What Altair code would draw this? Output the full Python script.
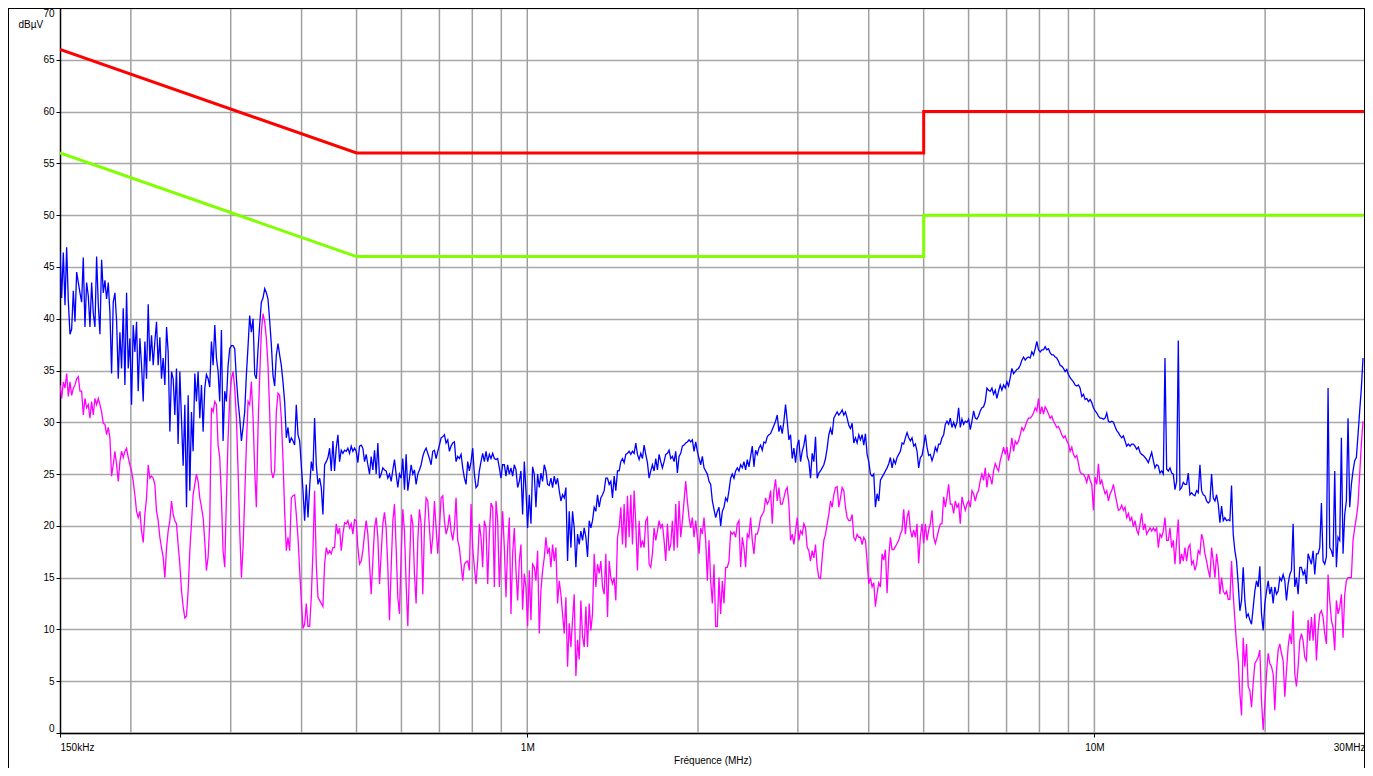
import altair as alt
import pandas as pd

FONT = "Liberation Sans"

# ---- sweep frequencies (MHz), one per measured point ----
freq_mhz = [
    0.15, 0.15102, 0.15204, 0.15307, 0.15411, 0.15515, 0.15621, 0.15727, 0.15833, 0.15941,
    0.16049, 0.16157, 0.16267, 0.16377, 0.16488, 0.166, 0.16712, 0.16826, 0.1694, 0.17055,
    0.1717, 0.17287, 0.17404, 0.17522, 0.17641, 0.1776, 0.17881, 0.18002, 0.18124, 0.18247,
    0.1837, 0.18495, 0.1862, 0.18747, 0.18874, 0.19002, 0.19131, 0.1926, 0.19391, 0.19522,
    0.19655, 0.19788, 0.19922, 0.20057, 0.20193, 0.2033, 0.20468, 0.20606, 0.20746, 0.20887,
    0.21028, 0.21171, 0.21314, 0.21459, 0.21604, 0.21751, 0.21898, 0.22047, 0.22196, 0.22347,
    0.225, 0.2265, 0.228, 0.2296, 0.2312, 0.2327, 0.2343, 0.2359, 0.2375, 0.2391,
    0.2407, 0.2423, 0.244, 0.2456, 0.2473, 0.249, 0.2507, 0.2524, 0.2541, 0.2558,
    0.2575, 0.2593, 0.261, 0.2628, 0.2646, 0.2664, 0.2682, 0.27, 0.2718, 0.2737,
    0.2755, 0.2774, 0.2793, 0.2812, 0.2831, 0.285, 0.2869, 0.2889, 0.2908, 0.2928,
    0.2948, 0.2968, 0.2988, 0.3008, 0.3029, 0.3049, 0.307, 0.3091, 0.3112, 0.3133,
    0.3154, 0.3175, 0.3197, 0.3219, 0.324, 0.3262, 0.3285, 0.3307, 0.3329, 0.3352,
    0.3374, 0.3397, 0.342, 0.3444, 0.3467, 0.349, 0.3514, 0.3538, 0.3562, 0.3586,
    0.361, 0.3635, 0.3659, 0.3684, 0.3709, 0.3734, 0.376, 0.3785, 0.3811, 0.3837,
    0.3863, 0.3889, 0.3915, 0.3942, 0.3969, 0.3995, 0.4023, 0.405, 0.4077, 0.4105,
    0.4133, 0.4161, 0.4189, 0.4217, 0.4246, 0.4275, 0.4304, 0.4333, 0.4362, 0.4392,
    0.4422, 0.4452, 0.4482, 0.4512, 0.4543, 0.4573, 0.4604, 0.4636, 0.4667, 0.4699,
    0.4731, 0.4763, 0.4795, 0.4827, 0.486, 0.4893, 0.4926, 0.496, 0.4993, 0.5027,
    0.5061, 0.5096, 0.513, 0.5165, 0.52, 0.5235, 0.5271, 0.5306, 0.5342, 0.5379,
    0.5415, 0.5452, 0.5489, 0.5526, 0.5563, 0.5601, 0.5639, 0.5677, 0.5716, 0.5755,
    0.5794, 0.5833, 0.5872, 0.5912, 0.5952, 0.5993, 0.6033, 0.6074, 0.6115, 0.6157,
    0.6199, 0.6241, 0.6283, 0.6325, 0.6368, 0.6412, 0.6455, 0.6499, 0.6543, 0.6587,
    0.6632, 0.6677, 0.6722, 0.6768, 0.6813, 0.686, 0.6906, 0.6953, 0.7, 0.7048,
    0.7095, 0.7143, 0.7192, 0.7241, 0.729, 0.7339, 0.7389, 0.7439, 0.7489, 0.754,
    0.7591, 0.7643, 0.7695, 0.7747, 0.7799, 0.7852, 0.7905, 0.7959, 0.8013, 0.8067,
    0.8122, 0.8177, 0.8232, 0.8288, 0.8344, 0.8401, 0.8458, 0.8515, 0.8573, 0.8631,
    0.869, 0.8749, 0.8808, 0.8868, 0.8928, 0.8988, 0.9049, 0.9111, 0.9172, 0.9234,
    0.9297, 0.936, 0.9424, 0.9487, 0.9552, 0.9617, 0.9682, 0.9747, 0.9813, 0.988,
    0.9947, 1.0014, 1.0082, 1.0151, 1.0219, 1.0289, 1.0358, 1.0429, 1.0499, 1.0571,
    1.0642, 1.0714, 1.0787, 1.086, 1.0934, 1.1008, 1.1082, 1.1158, 1.1233, 1.1309,
    1.1386, 1.1463, 1.1541, 1.1619, 1.1698, 1.1777, 1.1857, 1.1938, 1.2018, 1.21,
    1.2182, 1.2265, 1.2348, 1.2431, 1.2516, 1.2601, 1.2686, 1.2772, 1.2859, 1.2946,
    1.3033, 1.3122, 1.3211, 1.33, 1.3391, 1.3481, 1.3573, 1.3665, 1.3757, 1.3851,
    1.3945, 1.4039, 1.4134, 1.423, 1.4326, 1.4424, 1.4521, 1.462, 1.4719, 1.4819,
    1.4919, 1.502, 1.5122, 1.5225, 1.5328, 1.5432, 1.5536, 1.5642, 1.5748, 1.5855,
    1.5962, 1.607, 1.6179, 1.6289, 1.6399, 1.651, 1.6622, 1.6735, 1.6849, 1.6963,
    1.7078, 1.7194, 1.731, 1.7427, 1.7546, 1.7665, 1.7784, 1.7905, 1.8026, 1.8148,
    1.8271, 1.8395, 1.852, 1.8646, 1.8772, 1.8899, 1.9027, 1.9156, 1.9286, 1.9417,
    1.9549, 1.9681, 1.9815, 1.9949, 2.0084, 2.022, 2.0357, 2.0495, 2.0634, 2.0774,
    2.0915, 2.1057, 2.12, 2.1343, 2.1488, 2.1634, 2.178, 2.1928, 2.2077, 2.2226,
    2.2377, 2.2529, 2.2681, 2.2835, 2.299, 2.3146, 2.3303, 2.3461, 2.362, 2.378,
    2.3941, 2.4103, 2.4267, 2.4431, 2.4597, 2.4764, 2.4932, 2.5101, 2.5271, 2.5442,
    2.5615, 2.5788, 2.5963, 2.6139, 2.6316, 2.6495, 2.6674, 2.6855, 2.7037, 2.7221,
    2.7405, 2.7591, 2.7778, 2.7966, 2.8156, 2.8347, 2.8539, 2.8732, 2.8927, 2.9123,
    2.9321, 2.9519, 2.972, 2.9921, 3.0124, 3.0328, 3.0534, 3.0741, 3.0949, 3.1159,
    3.137, 3.1583, 3.1797, 3.2012, 3.2229, 3.2448, 3.2668, 3.2889, 3.3112, 3.3337,
    3.3563, 3.379, 3.4019, 3.425, 3.4482, 3.4716, 3.4951, 3.5188, 3.5427, 3.5667,
    3.5909, 3.6152, 3.6397, 3.6644, 3.6893, 3.7143, 3.7394, 3.7648, 3.7903, 3.816,
    3.8419, 3.8679, 3.8942, 3.9206, 3.9471, 3.9739, 4.0008, 4.028, 4.0553, 4.0828,
    4.1104, 4.1383, 4.1663, 4.1946, 4.223, 4.2517, 4.2805, 4.3095, 4.3387, 4.3681,
    4.3977, 4.4276, 4.4576, 4.4878, 4.5182, 4.5488, 4.5797, 4.6107, 4.642, 4.6735,
    4.7051, 4.737, 4.7692, 4.8015, 4.834, 4.8668, 4.8998, 4.933, 4.9665, 5.0001,
    5.034, 5.0681, 5.1025, 5.1371, 5.1719, 5.207, 5.2423, 5.2778, 5.3136, 5.3496,
    5.3859, 5.4224, 5.4592, 5.4962, 5.5334, 5.571, 5.6087, 5.6467, 5.685, 5.7236,
    5.7624, 5.8014, 5.8408, 5.8804, 5.9202, 5.9604, 6.0008, 6.0414, 6.0824, 6.1237,
    6.1652, 6.2069, 6.249, 6.2914, 6.334, 6.377, 6.4202, 6.4637, 6.5076, 6.5517,
    6.5961, 6.6408, 6.6858, 6.7312, 6.7768, 6.8227, 6.869, 6.9155, 6.9624, 7.0096,
    7.0571, 7.105, 7.1532, 7.2016, 7.2505, 7.2996, 7.3491, 7.3989, 7.4491, 7.4996,
    7.5504, 7.6016, 7.6531, 7.705, 7.7573, 7.8099, 7.8628, 7.9161, 7.9698, 8.0238,
    8.0782, 8.133, 8.1881, 8.2436, 8.2995, 8.3558, 8.4124, 8.4694, 8.5269, 8.5847,
    8.6429, 8.7014, 8.7604, 8.8198, 8.8796, 8.9398, 9.0004, 9.0614, 9.1229, 9.1847,
    9.247, 9.3097, 9.3728, 9.4363, 9.5003, 9.5647, 9.6296, 9.6948, 9.7606, 9.8267,
    9.8933, 9.9604, 10.028, 10.096, 10.164, 10.233, 10.303, 10.372, 10.443, 10.514,
    10.585, 10.657, 10.729, 10.802, 10.875, 10.949, 11.023, 11.098, 11.173, 11.249,
    11.325, 11.402, 11.479, 11.557, 11.635, 11.714, 11.793, 11.873, 11.954, 12.035,
    12.116, 12.198, 12.281, 12.364, 12.448, 12.533, 12.618, 12.703, 12.789, 12.876,
    12.963, 13.051, 13.14, 13.229, 13.318, 13.409, 13.5, 13.591, 13.683, 13.776,
    13.869, 13.963, 14.058, 14.153, 14.249, 14.346, 14.443, 14.541, 14.64, 14.739,
    14.839, 14.939, 15.041, 15.143, 15.245, 15.349, 15.453, 15.557, 15.663, 15.769,
    15.876, 15.984, 16.092, 16.201, 16.311, 16.422, 16.533, 16.645, 16.758, 16.871,
    16.986, 17.101, 17.217, 17.334, 17.451, 17.569, 17.688, 17.808, 17.929, 18.051,
    18.173, 18.296, 18.42, 18.545, 18.671, 18.797, 18.925, 19.053, 19.182, 19.312,
    19.443, 19.575, 19.708, 19.841, 19.976, 20.111, 20.248, 20.385, 20.523, 20.662,
    20.802, 20.943, 21.085, 21.228, 21.372, 21.517, 21.663, 21.81, 21.958, 22.107,
    22.256, 22.407, 22.559, 22.712, 22.866, 23.021, 23.177, 23.334, 23.493, 23.652,
    23.812, 23.974, 24.136, 24.3, 24.464, 24.63, 24.797, 24.965, 25.135, 25.305,
    25.477, 25.649, 25.823, 25.998, 26.174, 26.352, 26.531, 26.71, 26.892, 27.074,
    27.257, 27.442, 27.628, 27.815, 28.004, 28.194, 28.385, 28.577, 28.771, 28.966,
    29.163, 29.36, 29.559, 29.76,
]

# ---- blue trace (dBuV) ----
blue_dbuv = [
    46.5, 42, 46.4, 41.3, 46.9, 41.7, 38.5, 39, 42.7, 39.7,
    44.5, 43.5, 42.5, 41.6, 45.9, 39.2, 43.5, 42.2, 39.2, 43.5,
    40.5, 39.2, 46, 41.4, 38.5, 45.7, 42.5, 43.7, 41.9, 43.5,
    40.6, 34.7, 41.6, 42.5, 39.8, 34.2, 38.7, 35.2, 41, 33.6,
    42.5, 35.2, 38.1, 31.7, 39.4, 36.8, 39.7, 33, 38.1, 35.5,
    32, 37.8, 34.2, 41.4, 35.9, 38.4, 35.5, 37.8, 39.7, 35.5,
    38.2, 34.2, 36.2, 33.6, 39.2, 36.8, 29.1, 34.9, 34.2, 30.7,
    35.2, 27.9, 34.9, 30.4, 25.8, 31.7, 21.8, 32.6, 23.4, 31,
    27.2, 34.7, 32, 34.9, 30.4, 33.6, 29.1, 33.3, 34.6, 34.2,
    33.4, 37.8, 35.5, 39.4, 36.2, 34.9, 32, 38.9, 28.2, 33,
    32, 35.5, 37.1, 37.4, 37.4, 37.1, 34.2, 32, 30.4, 28.2,
    29.5, 31, 34.6, 37.4, 40.3, 38.7, 40, 34.6, 34.2, 37.1,
    39.4, 41.6, 42, 42.9, 42.5, 41.9, 39.8, 37.5, 34.5, 33.5,
    36.5, 37.6, 36.5, 35.5, 33.9, 32, 28.5, 29.5, 28, 28.5,
    28.2, 27.8, 31.7, 28.8, 28.2, 25.9, 23.4, 20.5, 24, 20.8,
    23.7, 26.2, 25.3, 30.4, 25.9, 24, 24.6, 23.7, 21.1, 25.9,
    26.2, 26.6, 27.5, 25.3, 28.2,
    25.3, 27.5, 28.8, 26.2, 27.3, 27, 27.3, 27.2, 27.5, 27,
    27.7, 27.2, 27.5, 27.2, 26.1, 27.7, 27.8, 27.5, 26.2, 26.9,
    25.9, 25, 26.7, 25.4, 27.3, 25, 28, 24.6, 25, 25.6,
    25.4, 25.3, 24.6, 25, 24.3, 25.4, 26.4, 25, 23.7, 25,
    24.6, 26.5, 23.5, 26.9, 23.4, 24.6, 25.9, 25, 25.4, 24,
    25, 25.4, 25.9, 26.7, 27.2, 27.5, 27, 26.5, 25.9, 27.2,
    27.3, 26.5, 27.2, 27.8, 28.5, 28.6, 28.8, 28, 28.3, 27.2,
    27.7, 28, 28.1, 26.2, 26.7, 26.5, 26.9, 25.6, 24.6, 24,
    26.2,
    25.3, 26.2, 27.5, 25, 23.7, 23.9, 25.3, 26.2, 27, 26.2,
    27.2, 26.2, 26.9, 26.5, 27, 26.5, 26.4, 26.5, 25.6, 24.6,
    25.9, 25.9, 24.8, 25.9, 25, 25.6, 24.8, 25.9, 25.4, 23.7,
    24.3, 25.3, 21.1, 26.2, 23.4, 19.8, 23, 20.2, 25.7, 25,
    21.8, 25, 23.7, 25.1, 24.3, 25.9, 25.3, 24, 23.9, 24.6,
    23.7, 24.8, 24, 24.6, 23.4, 22.4, 23, 22.7, 23.7, 16.6,
    21.4, 17.9, 21.4, 19.8, 16, 19.2, 18.2, 19.5, 18.6, 19.8,
    18.9, 17, 20.5, 19.8, 20.5, 21.8, 21.4, 23, 21.8, 22.7,
    23,
    23.4, 24.6, 24.6, 24, 24.3, 22.7, 24.8, 23.4, 25.3, 25.3,
    26.2, 26.5, 26.1, 26.9, 27, 27.2, 26.9, 27.2, 27, 28,
    26.9, 26.4, 27, 26.5, 27.8, 26.9, 26.1, 24.6, 25.3, 25.9,
    25.3, 26.5, 25.4, 26.9, 26.2, 25.6, 26.2, 26.9, 27, 27.3,
    26.5, 26.7, 26.2, 27.2, 25.1, 26.7, 27, 27.7, 27.8, 28,
    28.1, 28.3, 28.1, 28.3, 27.2, 28.1, 27.2, 26.5, 25.9, 26.7,
    25.6, 25.3, 25, 24.3, 24, 22.4, 21.6, 20.8, 21.4, 21.8,
    20, 21.4, 21.8, 22.7, 22.4, 23.4, 24.6, 25, 24.6, 25.3,
    25.6,
    25.3, 25.9, 25.6, 26.2, 25.4, 26.4, 25.7, 26.7, 27.7, 25.7,
    27.3, 26.9, 27.5, 27.8, 27.3, 28.1, 28, 28.6, 28.8, 28.9,
    29.3, 29.7, 30.1, 30.7, 29.1, 29.7, 28.9, 30.1, 31.7, 30.1,
    28.3, 28.8, 26.5, 27.5, 26.1, 27.7, 28.3, 26.2, 27.2, 27.8,
    28.8, 26.7, 26.2, 24.6, 27, 26.2, 28.6, 24.6, 25.1, 25.3,
    25.6, 25.9, 26.5, 27.5, 28.8, 29.4, 28.8, 30.4, 30.7, 31,
    30.7, 30.9, 31.2, 30.7, 31, 30.4, 29.7, 29.4, 29.9, 28,
    28.5, 28, 28.8, 28.3, 28.8, 27.8, 28.9, 26.9, 26.2, 25,
    24.8,
    25, 21.8, 23.1, 22.4, 24.4, 24.7, 25, 25.3, 25.6, 26,
    26.6, 25.6, 26.4, 26, 26.6, 26.9, 27.2, 28, 27.9, 28.5,
    29, 28.5, 28.2, 28.5, 27.7, 27.9, 27.2, 25.6, 26.6, 26.8,
    27.7, 28.8, 27.6, 26.8, 26.9, 26.3, 26.8, 27.6, 27.2, 27.9,
    27.9, 28.5, 28.8, 29.8, 30.1, 29.8, 30.4, 29.5, 30, 29.5,
    30, 31.4, 29.5, 30.3, 29.8, 30.1, 30, 30.3, 29.3, 30.1,
    31.1, 30.4, 30.3, 30.6, 31.1, 31.4, 31.5, 32, 33.3, 33.1,
    33, 33.3, 32.7, 33.1, 32.3, 33, 33.6, 33.1, 33.6, 33.3,
    33.9,
    33.5, 34.3, 35.2, 34.7, 34.9, 35.1, 35.2, 35.5, 36, 36.3,
    36, 36.2, 36.3, 36.2, 36.8, 36.5, 37.1, 37.8, 37, 36.8,
    37, 37, 37.3, 37, 37.1, 36.7, 36.5, 36.5, 36.3, 36.2,
    35.9, 35.5, 35.4, 35.2, 34.9, 35.1, 34.6, 34.3, 34.1, 33.9,
    33.6, 33.5, 33.6, 33.3, 32.5, 32.7, 32.2, 32.3, 32, 32.2,
    31.9, 31.4, 31.1, 30.9, 30.6, 30.4, 30.4, 30.3, 30.4, 30.9,
    30.1, 30, 30.1, 30, 29.6, 29.2, 29, 28.7, 28.5, 28.7,
    28.2, 27.7, 27.9, 27.7, 27.9, 27.9, 27.7, 27.4, 27.6, 27.1,
    26.9, 26.8, 26.6, 26.4,
    26.1, 26.6, 27.1, 26.3, 25.6, 25.9, 25.8, 25.1, 25.3, 25,
    36.2, 25.5, 25.3, 25.6, 25.1, 25, 23.5, 24.3, 37.9, 23.5,
    23.7, 24.2, 24, 24, 25.1, 23, 23.2, 23, 22.9, 23.4,
    23.2, 25.9, 23.4, 23, 22.9, 22.4, 22.2, 22.4, 25, 22.7,
    22.4, 23, 22.1, 20.3, 21.9, 20.5, 20.8, 20.5, 20.6, 20.5,
    23.9, 19.2, 17.6, 16.6, 14.4, 11.8, 12.8, 16, 12.8, 11.2,
    11.5, 10.9, 10.5, 12.1, 13.7, 14.7, 14.1, 16.1, 11.5, 9.9,
    12.5, 13.7, 14.7, 13.4, 14.1, 12.5, 14.1, 13.4, 13.7, 15,
    14.7, 15.3, 14.7, 12.8, 14.4, 15.3, 15.7, 20.2, 14.1, 15,
    13.4, 16, 16, 15.3, 15.7, 14.4, 17.3, 16.8, 16.3, 17.6,
    15.3, 17.3, 17.3, 17.9, 22.2, 16.6, 16.3, 17, 33.3, 17.9,
    17.6, 17, 25.3, 16, 18.9, 18.6, 28.5, 17.3, 21.1, 22.4,
    30.4, 21.8, 24, 25.3, 26.3, 26.6, 28.8, 31.1, 33.3, 36.2,
]

# ---- magenta trace (dBuV) ----
magenta_dbuv = [
    33.6, 32.3, 33.9, 33.3, 34.7, 32.5, 33.9, 32.6, 33.3, 33.6,
    34.2, 34.4, 33, 33, 30.7, 32.3, 31.4, 31.7, 30.4, 32,
    30.7, 32.3, 31.7, 32.3, 31.7, 31, 29.9, 29.8, 28.8, 29.5,
    28.5, 24.8, 25.9, 27.2, 25.9, 24.3, 26.2, 27.2, 26.6, 27.2,
    27.5, 26.6, 25.9, 25.3, 24.3, 23, 21.4, 20.8, 21.4, 19.5,
    18.4, 21.1, 22.7, 25.9, 24.6, 24.8, 24.6, 24, 21.4, 20.5,
    18.9, 17.9, 17, 15, 17.9, 19.5, 20.5, 22.4, 21.1, 20.5,
    20.2, 18.2, 16.3, 13.8, 12.2, 11.1, 11.3, 13.8, 17.6, 20.2,
    23, 24, 25, 24.3, 22.7, 21.8, 20.8, 18.5, 15.7, 17,
    20.2, 31.4, 31, 32, 31.7, 27.8, 26.6, 22.7, 17.6, 16,
    22.7, 28.5, 32.3, 34.2, 34.9, 33.3, 30.4, 25.3, 19.5, 15,
    17.9, 22.7, 27.8, 32, 31.7, 33.9, 30.4, 25.3, 21.8, 29.5,
    34.4, 38.7, 40.5, 39.7, 38.1, 35.5, 31, 25.3, 24.6, 25.3,
    31, 32.8, 32.6, 30.4, 26.5, 21.4, 17.6, 18.9, 17.6, 22.7,
    22.9, 23, 21.1, 18.9, 15.7, 12.9, 10.1, 10.5, 12.5, 10.3,
    10.3, 13.1, 17.6, 23.4, 16.3, 13.1, 12.8, 12.5, 12.2, 16.3,
    17.9, 17.3, 17.6, 17.3, 17.9,
    17.9, 20.2, 19.2, 19.8, 17.6, 19.2, 20.3, 20.2, 20.5, 19.8,
    20.2, 19.2, 20.6, 20.5, 17.9, 16.3, 16.6, 17.6, 19.2, 20.5,
    19.2, 16.3, 13.4, 16.6, 19.8, 20.8, 18.9, 14.4, 17.3, 20.2,
    21.3, 19.8, 16, 10.9, 16, 20.5, 22.1, 17.9, 13.1, 11.5,
    17.3, 21.6, 19.5, 14.4, 10.3, 16, 21.1, 20.2, 15.4, 12.5,
    18.6, 21.6, 20.2, 13.4, 19.8, 22.7, 22.4, 19.8, 17.3, 18.9,
    22.4, 19.8, 17.3, 19.8, 22.7, 22.9, 20.5, 19.2, 19.8, 21.1,
    19.5, 18.6, 19.8, 22.7, 18.6, 17.9, 16.3, 14.7, 16.3, 16.5,
    16.6,
    15.7, 22.1, 17.9, 16, 14.4, 16.6, 20.2, 18.9, 16, 20.5,
    19.8, 14.4, 19.2, 22.2, 21.8, 14.1, 22.4, 20.5, 14.1, 17.9,
    21.4, 17.9, 13.1, 17.9, 20.8, 11.5, 17.3, 19.8, 15.7, 12.8,
    16.6, 18.2, 11.9, 15.4, 14.1, 10.3, 15.7, 10.9, 16.3, 16,
    14.7, 17.6, 9.6, 13.8, 15.7, 16.9, 18.9, 17.3, 17.9, 16,
    18.2, 16.6, 17.9, 12.5, 14.7, 13.4, 11.5, 9.6, 13.1, 6.4,
    10.6, 8.3, 10.9, 13.4, 5.5, 9, 7.1, 12.8, 9.3, 8.3,
    12.2, 8.3, 12.5, 9.9, 11.5, 17.3, 14.1, 16.3, 15.4, 16.6,
    14.1,
    13.4, 17.3, 11.2, 16.6, 15, 14.4, 15, 12.8, 18.9, 19.8,
    21.8, 18.2, 22.1, 17.9, 22.9, 18.9, 23, 18.2, 23.4, 20.2,
    15.7, 20.5, 17.9, 18.6, 17.9, 20.5, 20.8, 16.3, 16, 17.3,
    19.8, 18.6, 19.5, 20.5, 19.8, 20.2, 18.6, 16.6, 20.2, 17.6,
    18.2, 20.5, 17.6, 22.1, 17.9, 22.4, 18.9, 20.5, 22.4, 24.3,
    22.4, 20.8, 19.8, 20.8, 18.9, 20.5, 18.9, 17.3, 19.8, 19.2,
    20.8, 18.6, 14.7, 18.6, 14.7, 12.5, 16.3, 10.3, 10.3, 15,
    11.5, 14.7, 12.5, 16, 16, 16.6, 19.4, 19.2, 19.4, 18.9,
    20.2,
    20.5, 16, 18.9, 17.9, 16, 19.2, 18.9, 20.8, 18.6, 17.3,
    19.2, 19.2, 19.8, 20.8, 21.1, 21.4, 22.7, 22.1, 22.4, 23.4,
    20.2, 23.4, 24.5, 22.4, 23.7, 22.1, 22.1, 22.7, 23.4, 23.7,
    22.1, 18.6, 19.2, 18.2, 19.5, 20.8, 18.6, 19.5, 19.2, 20.2,
    19.8, 17.9, 17.6, 16.6, 17.6, 16.9, 18.2, 16, 15, 14.9,
    16.9, 18.6, 19.2, 20.2, 21.1, 22.4, 21.8, 23, 23.7, 23.8,
    21.8, 22.7, 23.7, 23.4, 21.8, 20.8, 20.5, 20.5, 21.1, 18.9,
    18.6, 19.2, 18.9, 18.9, 18.2, 18.9, 18.6, 16.6, 14.4, 15,
    14.1,
    14.5, 12.2, 13.5, 14.5, 14.1, 17.3, 16.7, 17.7, 13.5, 17,
    18.9, 17.7, 17.7, 18, 18.3, 18.6, 19.2, 19.6, 21.6, 19.2,
    20.8, 21.5, 19.6, 18.9, 19.6, 18.9, 20.2, 16.4, 18.9, 20.2,
    18.3, 20.2, 18.6, 19.6, 20.2, 21.5, 18.9, 18.3, 18.9, 19.6,
    20.2, 20.2, 22.8, 21.8, 22.8, 24, 22.1, 22.1, 21.2, 22.4,
    21.8, 22.1, 20.2, 22.8, 22.1, 21.5, 22.1, 22.4, 21.8, 23.4,
    23.1, 22.4, 23.1, 23.4, 24.4, 25, 24.4, 25.6, 23.7, 25,
    24.7, 24, 25.3, 26, 25.6, 25.3, 26.3, 26.9, 27.6, 26.9,
    27.6,
    26.3, 27.2, 28.5, 27.2, 28.2, 27.9, 28.2, 28.8, 29.5, 29.2,
    29.6, 30.1, 30.4, 30.4, 30.6, 30.9, 31.4, 31.1, 32.3, 30.8,
    31.5, 30.8, 31.5, 31.2, 30.8, 30.4, 30.6, 30.1, 29.8, 29.5,
    29.6, 29.2, 28.8, 28.5, 28.7, 28.2, 27.9, 27.2, 27.6, 26.9,
    26.6, 26.8, 26, 25.2, 25, 25, 24.7, 24.2, 25, 24.4,
    24, 21.5, 24.7, 24, 26, 24, 24.4, 23.7, 23.1, 23.4,
    22.4, 23.1, 23.4, 24, 23.1, 22.3, 21.5, 21.6, 22, 21.5,
    21.8, 20.8, 21.2, 20.5, 20.8, 19.9, 20.5, 19.6, 19.2, 20.2,
    21.2, 19.6, 20.2, 19.2,
    19.5, 19.8, 19.5, 19.8, 19.5, 19.8, 17.9, 19.2, 18.9, 19.5,
    20.8, 18.6, 18.6, 19.8, 17.9, 18.6, 16.3, 18.6, 20.6, 16.3,
    17.3, 16.6, 17.9, 16.6, 17.9, 18.2, 16.3, 16.6, 15.7, 16.3,
    17.6, 17.3, 19.2, 18.6, 17.3, 16.6, 15.7, 15, 17.9, 16.6,
    15, 17.3, 16, 13.4, 15, 13.7, 13.4, 13.7, 12.9, 12.9,
    16.6, 13.4, 10.9, 8.6, 7, 3.8, 1.7, 9.2, 6.4, 8.6,
    4.5, 4.1, 2.5, 4.8, 6.7, 7, 7.3, 8, 3.1, 0.3,
    2.8, 5.7, 7.7, 6.7, 6.4, 5.7, 2.2, 6, 8, 8.6,
    7.7, 7, 3.5, 6, 8.3, 9.6, 8.6, 11.8, 5.7, 4.5,
    6.4, 8.9, 9.6, 8.9, 7.3, 7, 10.9, 8.9, 11.2, 8.9,
    11.5, 7, 9.9, 11.5, 11.8, 11.2, 9.6, 8.6, 15.3, 12.8,
    10.9, 10.2, 8, 12.8, 11.5, 12.1, 13.4, 9.2, 13.4, 14.7,
    15, 15, 15, 18.6, 19.8, 20.8, 22.1, 25, 27.9, 30.1,
]

# ---- limit lines (CISPR class B: quasi-peak red, average green) ----
qp_limit_f = [0.15, 0.5, 5.0, 5.0, 30.0]
qp_limit_v = [66, 56, 56, 60, 60]
av_limit_f = [0.15, 0.5, 5.0, 5.0, 30.0]
av_limit_v = [56, 46, 46, 50, 50]

# ---- axes ----
grid_f = [0.2, 0.3, 0.4, 0.5, 0.6, 0.7, 0.8, 0.9, 1, 2, 3, 4, 5, 6, 7, 8, 9, 10, 20]
y_ticks = list(range(0, 71, 5))
x_tick_values = [0.15, 1, 10, 30]
x_tick_labels = ["150kHz", "1M", "10M", "30MHz"]

n = min(len(freq_mhz), len(blue_dbuv), len(magenta_dbuv))
blue_df = pd.DataFrame({"f": freq_mhz[:n], "v": blue_dbuv[:n], "i": list(range(n))})
mag_df = pd.DataFrame({"f": freq_mhz[:n], "v": magenta_dbuv[:n], "i": list(range(n))})
qp_df = pd.DataFrame({"f": qp_limit_f, "v": qp_limit_v, "i": list(range(len(qp_limit_f)))})
av_df = pd.DataFrame({"f": av_limit_f, "v": av_limit_v, "i": list(range(len(av_limit_f)))})
grid_df = pd.DataFrame({"f": grid_f})
one = pd.DataFrame({"k": [0]})

label_expr = "".join(
    f"abs(datum.value - {v}) < 1e-6 ? '{lab}' : " for v, lab in zip(x_tick_values, x_tick_labels)
) + "''"

W, H = 1305, 725

x_scale = alt.Scale(type="log", domain=[0.15, 30], nice=False)
y_scale = alt.Scale(domain=[0, 70], nice=False, zero=False)

x_axis = alt.Axis(
    values=x_tick_values, labelExpr=label_expr, grid=False,
    tickSize=4, tickColor="#000", tickWidth=1,
    domainColor="#000", domainWidth=1.5,
    labelFont=FONT, labelFontSize=10, labelColor="#000", labelPadding=5,
    labelFlush=True, labelOverlap=False,
    title="Fréquence (MHz)", titleFont=FONT, titleFontSize=10,
    titleFontWeight="normal", titleColor="#000", titleY=27, titleBaseline="middle",
)
y_axis = alt.Axis(
    values=y_ticks, grid=True, gridColor="#a8a8a8", gridWidth=1.5,
    tickSize=4, tickColor="#000", tickWidth=1,
    domainColor="#000", domainWidth=1.5,
    labelFont=FONT, labelFontSize=10, labelColor="#000", labelPadding=2,
    labelFlush=True,
    title="dBµV", titleFont=FONT, titleFontSize=10, titleFontWeight="normal",
    titleColor="#000", titleAngle=0, titleAlign="left", titleBaseline="middle",
    titleX=-42, titleY=16,
)

X = alt.X("f:Q", scale=x_scale, axis=x_axis)
Y = alt.Y("v:Q", scale=y_scale, axis=y_axis)

vgrid = alt.Chart(grid_df).mark_rule(color="#a0a0a0", strokeWidth=1.5).encode(x=X)

mag = alt.Chart(mag_df).mark_line(color="#ff00ff", strokeWidth=1.3, clip=True).encode(
    x=X, y=Y, order=alt.Order("i:Q"))
blue = alt.Chart(blue_df).mark_line(color="#0000ff", strokeWidth=1.3, clip=True).encode(
    x=X, y=Y, order=alt.Order("i:Q"))
qp = alt.Chart(qp_df).mark_line(color="#ff0000", strokeWidth=3, clip=True).encode(
    x=X, y=Y, order=alt.Order("i:Q"))
av = alt.Chart(av_df).mark_line(color="#80ff00", strokeWidth=3, clip=True).encode(
    x=X, y=Y, order=alt.Order("i:Q"))

frame_left = alt.Chart(one).mark_rule(color="#000", strokeWidth=1).encode(
    x=alt.value(-51.5), y=alt.value(0), y2=alt.value(760))
frame_top = alt.Chart(one).mark_rule(color="#000", strokeWidth=1).encode(
    x=alt.value(-51.5), x2=alt.value(W), y=alt.value(0.5))
frame_right = alt.Chart(one).mark_rule(color="#000", strokeWidth=1).encode(
    x=alt.value(W - 0.5), y=alt.value(0), y2=alt.value(760))

chart = alt.layer(
    vgrid, mag, blue, qp, av, frame_left, frame_top, frame_right
).properties(
    width=W, height=H,
    padding={"left": 52, "top": 0, "right": 0, "bottom": 35},
    autosize=alt.AutoSizeParams(type="none"),
    background="white",
).configure_view(stroke="#000", strokeWidth=1)

chart.save("out.html", embed_options={"renderer": "svg", "actions": False})
